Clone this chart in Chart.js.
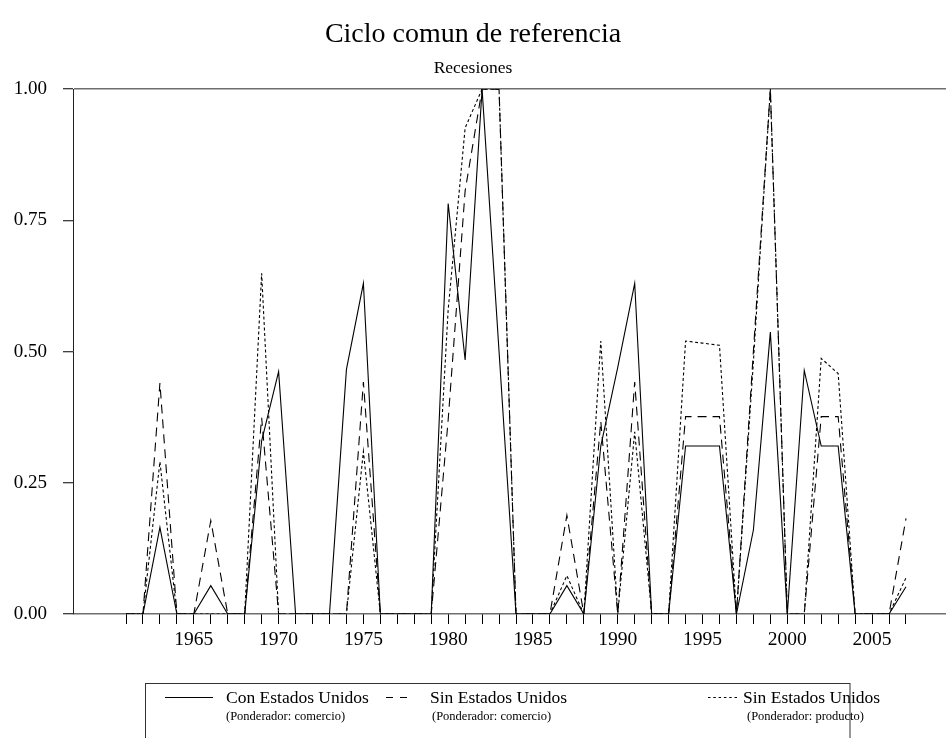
<!DOCTYPE html>
<html>
<head>
<meta charset="utf-8">
<script src="https://cdn.jsdelivr.net/npm/chart.js@4.4.1/dist/chart.umd.min.js"></script>
<style>
  html, body { margin: 0; padding: 0; background: #fff; }
  #wrap { width: 946px; height: 738px; }
</style>
</head>
<body>
<div id="wrap"><canvas id="graphicCiclo"></canvas></div>
<script>
// años de la serie
const years = [1961, 1962, 1963, 1964, 1965, 1966, 1967, 1968, 1969, 1970,
  1971, 1972, 1973, 1974, 1975, 1976, 1977, 1978, 1979, 1980,
  1981, 1982, 1983, 1984, 1985, 1986, 1987, 1988, 1989, 1990,
  1991, 1992, 1993, 1994, 1995, 1996, 1997, 1998, 1999, 2000,
  2001, 2002, 2003, 2004, 2005, 2006, 2007];

// Con Estados Unidos (Ponderador: comercio)
const conEEUU = [0, 0, 0.165, 0, 0, 0.054, 0, 0, 0.33, 0.462,
  0, 0, 0, 0.466, 0.63, 0, 0, 0, 0, 0.782,
  0.484, 1.0, 0.5, 0, 0, 0, 0.054, 0, 0.32, 0.47,
  0.63, 0, 0, 0.32, 0.32, 0.32, 0, 0.16, 0.537, 0,
  0.464, 0.32, 0.32, 0, 0, 0, 0.052];

// Sin Estados Unidos (Ponderador: comercio)
const sinEEUUComercio = [0, 0, 0.44, 0, 0, 0.178, 0, 0, 0.374, 0,
  0, 0, 0, 0, 0.442, 0, 0, 0, 0, 0.37,
  0.806, 1.0, 1.0, 0, 0, 0, 0.188, 0, 0.367, 0,
  0.442, 0, 0, 0.376, 0.376, 0.376, 0, 0.5, 1.0, 0,
  0, 0.376, 0.376, 0, 0, 0, 0.182];

// Sin Estados Unidos (Ponderador: producto)
const sinEEUUProducto = [0, 0, 0.29, 0, 0, 0, 0, 0, 0.649, 0,
  0, 0, 0, 0, 0.31, 0, 0, 0, 0, 0.58,
  0.926, 1.0, 1.0, 0, 0, 0, 0.073, 0, 0.52, 0,
  0.347, 0, 0, 0.52, 0.516, 0.512, 0, 0.48, 1.0, 0,
  0, 0.487, 0.458, 0, 0, 0, 0.069];

const yTicks = [0, 0.25, 0.5, 0.75, 1];

const legendItems = [
  { label: 'Con Estados Unidos', sub: '(Ponderador: comercio)' },
  { label: 'Sin Estados Unidos', sub: '(Ponderador: comercio)' },
  { label: 'Sin Estados Unidos', sub: '(Ponderador: producto)' }
];

const serif = 'Liberation Serif';
Chart.defaults.font.family = serif;
Chart.defaults.color = '#000';

function toPoints(values) {
  return years.map((yr, i) => ({ x: yr, y: values[i] }));
}

// leyenda en caja con dos lineas por serie (dibujada a mano)
const boxLegend = {
  id: 'boxLegend',
  afterDraw(chart) {
    const ctx = chart.ctx;
    ctx.save();
    ctx.strokeStyle = '#333';
    ctx.lineWidth = 1;
    ctx.strokeRect(145.5, 683.5, 704.5, 70);

    const keys = [
      { x0: 165, x1: 213, dash: [], tx: 226, sx: 226 },
      { x0: 386, x1: 407, dash: [7, 7], tx: 430, sx: 432 },
      { x0: 708, x1: 737, dash: [2.5, 2.8], tx: 743, sx: 747 }
    ];
    keys.forEach((k, i) => {
      ctx.beginPath();
      ctx.setLineDash(k.dash);
      ctx.moveTo(k.x0, 697.5);
      ctx.lineTo(k.x1, 697.5);
      ctx.strokeStyle = '#000';
      ctx.stroke();
      ctx.setLineDash([]);

      ctx.fillStyle = '#000';
      ctx.textAlign = 'left';
      ctx.textBaseline = 'alphabetic';
      ctx.font = '17.5px "' + serif + '"';
      ctx.fillText(legendItems[i].label, k.tx, 703);
      ctx.font = '12.5px "' + serif + '"';
      ctx.fillText(legendItems[i].sub, k.sx, 720);
    });
    ctx.restore();
  }
};

const ciclo = document.getElementById('graphicCiclo');

new Chart(ciclo, {
  type: 'line',
  data: {
    datasets: [
      {
        label: legendItems[0].label,
        data: toPoints(conEEUU),
        borderColor: '#000',
        borderWidth: 1.1
      },
      {
        label: legendItems[1].label,
        data: toPoints(sinEEUUComercio),
        borderColor: '#000',
        borderWidth: 1.1,
        borderDash: [9, 6]
      },
      {
        label: legendItems[2].label,
        data: toPoints(sinEEUUProducto),
        borderColor: '#000',
        borderWidth: 1.1,
        borderDash: [3, 2.5]
      }
    ]
  },
  options: {
    responsive: true,
    maintainAspectRatio: false,
    animation: false,
    layout: { padding: 0 },
    elements: {
      point: { radius: 0 },
      line: { tension: 0 }
    },
    plugins: {
      legend: { display: false },
      tooltip: { enabled: false },
      title: {
        display: true,
        text: 'Ciclo comun de referencia',
        font: { family: serif, size: 28, weight: 'normal' },
        color: '#000',
        padding: { top: 18, bottom: 6 }
      },
      subtitle: {
        display: true,
        text: 'Recesiones',
        font: { family: serif, size: 17.5, weight: 'normal' },
        color: '#000',
        padding: { top: 0, bottom: 10.5 }
      }
    },
    scales: {
      x: {
        type: 'linear',
        min: 1957.874,
        max: 2009.359,
        afterBuildTicks: (axis) => {
          axis.ticks = years.map(v => ({ value: v }));
        },
        afterFit: (axis) => { axis.height = 124; },
        ticks: {
          autoSkip: false,
          maxRotation: 0,
          padding: 4,
          font: { size: 19.5 },
          callback: (v) => (v % 5 === 0 ? String(v) : '')
        },
        grid: {
          drawOnChartArea: false,
          tickLength: 10,
          color: '#000',
          tickColor: '#000',
          tickWidth: 1
        },
        border: { display: false }
      },
      y: {
        min: 0,
        max: 1,
        afterBuildTicks: (axis) => {
          axis.ticks = yTicks.map(v => ({ value: v }));
        },
        afterFit: (axis) => { axis.width = 73; },
        ticks: {
          padding: 16,
          font: { size: 19 },
          callback: (v) => v.toFixed(2)
        },
        grid: {
          tickLength: 10,
          color: (c) => (c.tick && (c.tick.value === 0 || c.tick.value === 1)) ? '#6e6e6e' : 'rgba(0,0,0,0)',
          lineWidth: 1.5,
          tickColor: '#000',
          tickWidth: 1
        },
        border: { display: true, color: '#222', width: 1 }
      }
    }
  },
  plugins: [boxLegend]
});
</script>
</body>
</html>
